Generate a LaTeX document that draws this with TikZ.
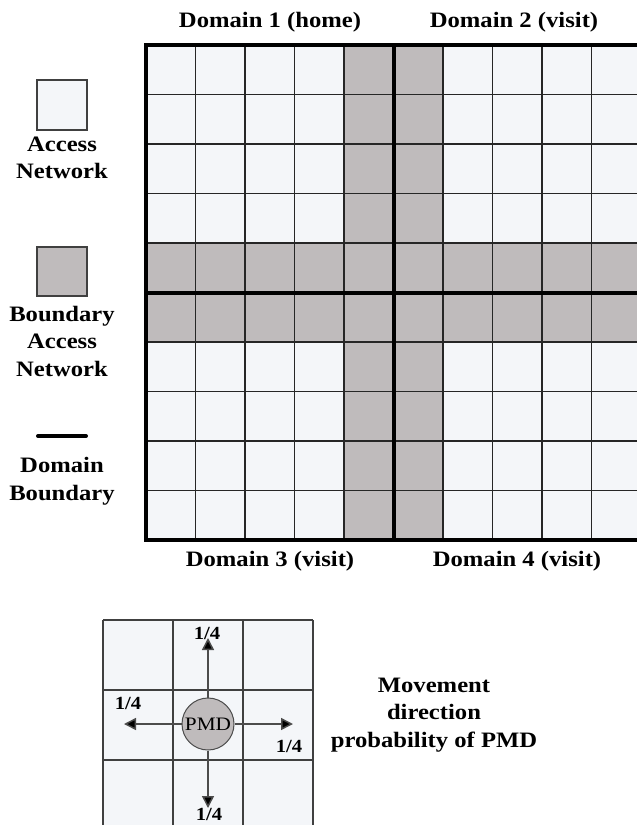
\documentclass[tikz,border=0pt]{standalone}
\usepackage{fontspec}
\setmainfont[FakeStretch=1.12]{Liberation Serif}
\usetikzlibrary{arrows.meta}
\definecolor{cellA}{HTML}{F4F6F9}
\definecolor{cellB}{HTML}{BFBBBC}
\begin{document}
\begin{tikzpicture}[x=1pt,y=-1pt,
  lbl/.style={font=\bfseries\fontsize{22}{27.5}\selectfont, align=center, inner sep=0pt},
  dlbl/.style={font=\bfseries\fontsize{22}{24}\selectfont, inner sep=0pt},
  qlbl/.style={font=\bfseries\fontsize{18.5}{20}\selectfont, inner sep=0pt},
  thin grid/.style={line width=1.6pt, draw=black!85},
  thick grid/.style={line width=4pt, draw=black},
  arr/.style={line width=1.5pt, draw=black!70, -{Triangle[length=12pt,width=12pt,fill=black]}}]
\useasboundingbox (0,0) rectangle (637,825);
\clip (0,0) rectangle (637,825);
\fill[white] (0,0) rectangle (637,825);
% main grid
\def\gx{146}\def\gy{45}\def\cs{49.5}
\foreach \i in {0,...,9}{
  \foreach \j in {0,...,9}{
    \pgfmathsetmacro{\isb}{(\i==4 || \i==5 || \j==4 || \j==5) ? 1 : 0}
    \ifdim\isb pt>0.5pt
      \fill[cellB] (\gx+\i*\cs,\gy+\j*\cs) rectangle ++(\cs,\cs);
    \else
      \fill[cellA] (\gx+\i*\cs,\gy+\j*\cs) rectangle ++(\cs,\cs);
    \fi
  }
}
\foreach \i in {1,...,10}{
  \draw[thin grid] (\gx+\i*\cs,\gy) -- (\gx+\i*\cs,\gy+10*\cs);
  \draw[thin grid] (\gx,\gy+\i*\cs) -- (\gx+10*\cs,\gy+\i*\cs);
}
\draw[thick grid] (\gx+10*\cs+5,\gy) -- (\gx,\gy) -- (\gx,\gy+10*\cs) -- (\gx+10*\cs+5,\gy+10*\cs);
\draw[thick grid] (\gx+5*\cs,\gy) -- (\gx+5*\cs,\gy+10*\cs);
\draw[thick grid] (\gx,\gy+5*\cs) -- (\gx+10*\cs+5,\gy+5*\cs);
% domain labels
\node[dlbl] (d1) at (270,22) {Domain 1 (home)};
\node[dlbl] (d2) at (514,22) {Domain 2 (visit)};
\node[dlbl] (d3) at (270,561) {Domain 3 (visit)};
\node[dlbl] (d4) at (517,561) {Domain 4 (visit)};
% legend
\draw[fill=cellA, line width=1.8pt, draw=black!75] (37,80) rectangle (87,130);
\node[lbl] (l1) at (62,158) {Access\\Network};
\draw[fill=cellB, line width=1.8pt, draw=black!75] (37,247) rectangle (87,296);
\node[lbl] (l2) at (62,341) {Boundary\\Access\\Network};
\draw[line width=4pt, line cap=round] (38,436) -- (86,436);
\node[lbl] (l3) at (62,481) {Domain\\Boundary};
% small grid
\fill[cellA] (103,620) rectangle (313,830);
\foreach \k in {0,...,3}{
  \draw[line width=1.5pt, draw=black!75] (103+\k*70,620) -- (103+\k*70,830);
  \draw[line width=1.5pt, draw=black!75] (103,620+\k*70) -- (313,620+\k*70);
}
\node[circle, minimum size=52pt, inner sep=0pt, fill=cellB, draw=black!70, line width=1pt,
  font=\fontsize{19}{20}\selectfont] (pmd) at (208,724) {PMD};
\coordinate (up) at (208,638);
\coordinate (dn) at (208,808);
\coordinate (lf) at (124,724);
\coordinate (rt) at (293,724);
\draw[arr] (pmd.north) -- (up);
\draw[arr] (pmd.south) -- (dn);
\draw[arr] (pmd.west) -- (lf);
\draw[arr] (pmd.east) -- (rt);
\node[qlbl] (q1) at (207,633) {1/4};
\node[qlbl] (q2) at (209,814) {1/4};
\node[qlbl] (q3) at (128,703) {1/4};
\node[qlbl] (q4) at (289,746) {1/4};
\node[lbl] (mv) at (434,715) {Movement\\direction\\probability of PMD};
\end{tikzpicture}
\end{document}
